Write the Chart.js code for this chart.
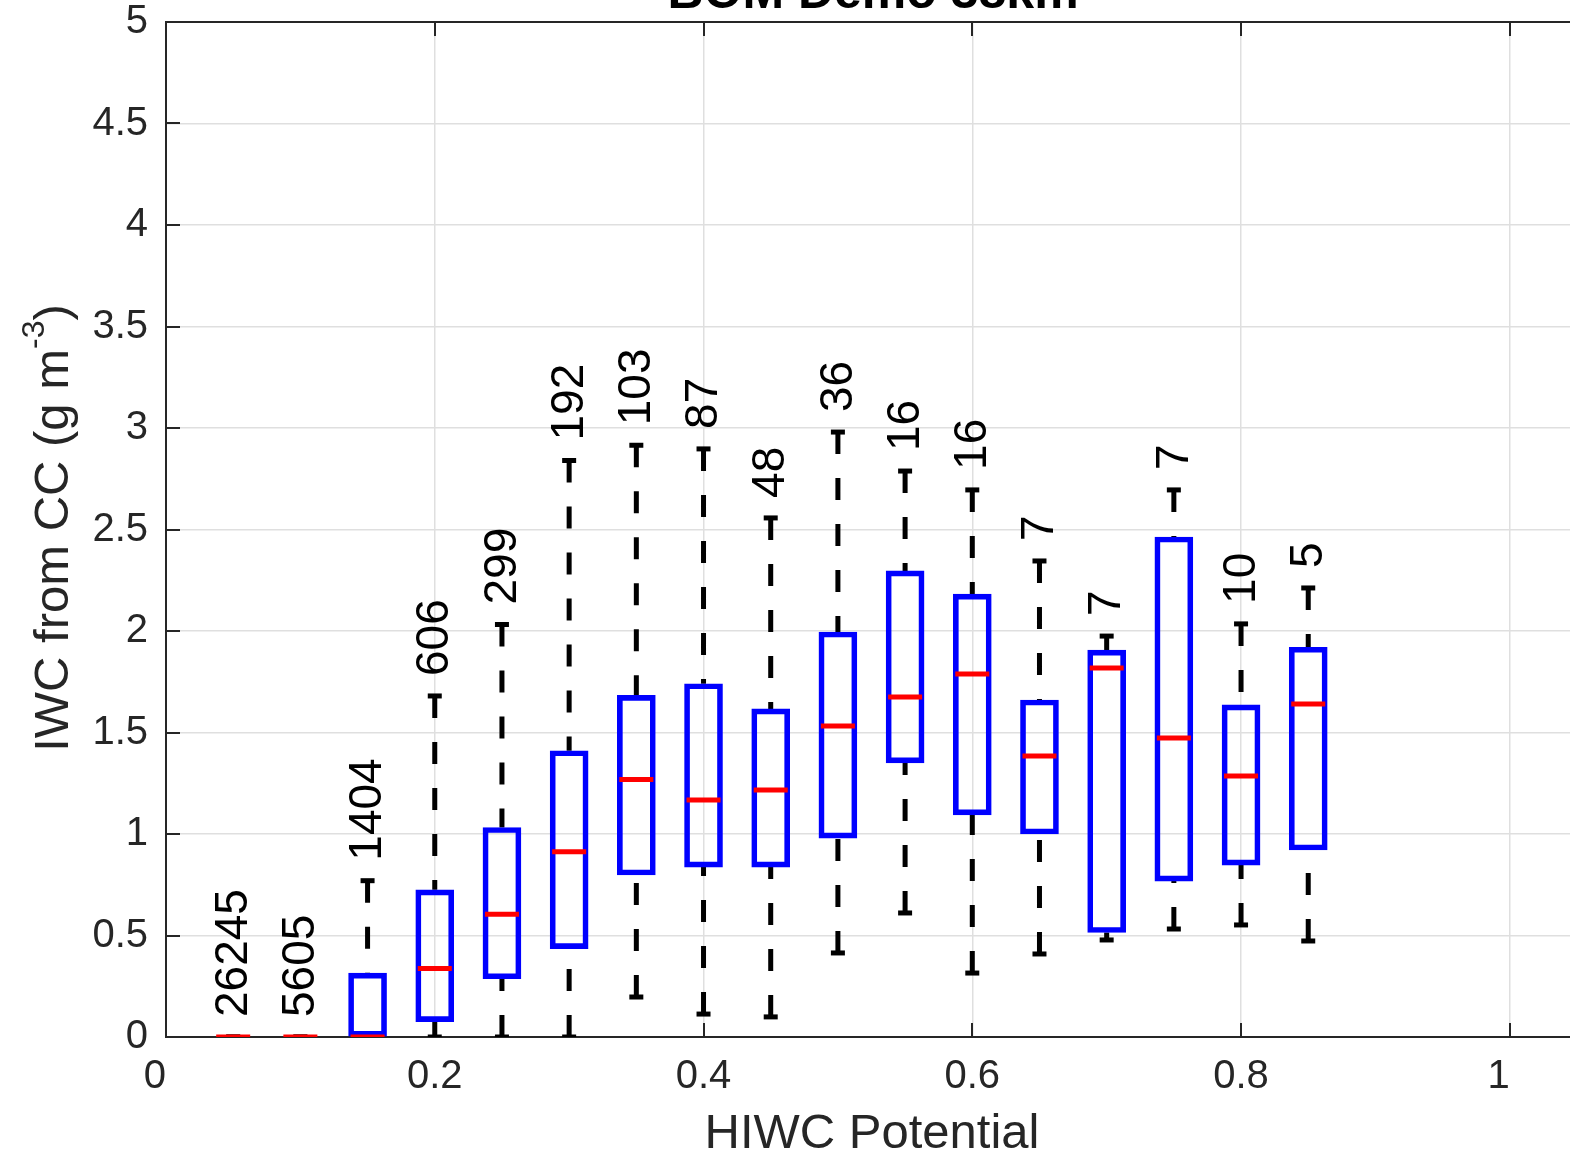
<!DOCTYPE html>
<html>
<head>
<meta charset="utf-8">
<script src="https://cdn.jsdelivr.net/npm/chart.js@4.4.1/dist/chart.umd.min.js"></script>
<style>
  html, body { margin: 0; padding: 0; background: #fff; overflow: hidden; }
  canvas { display: block; }
</style>
</head>
<body>
<canvas id="boxChart" width="1580" height="1152" style="width:1580px;height:1152px"></canvas>
<script>

// ---------------- DATA ----------------

const hiwcBins    = [0.05, 0.10, 0.15, 0.20, 0.25, 0.30, 0.35, 0.40, 0.45, 0.50, 0.55, 0.60, 0.65, 0.70, 0.75, 0.80, 0.85];
const counts      = [26245, 5605, 1404, 606, 299, 192, 103, 87, 48, 36, 16, 16, 7, 7, 7, 10, 5];
const whiskerLow  = [0, 0, 0, 0, 0, 0, 0.197, 0.113, 0.099, 0.414, 0.611, 0.315, 0.409, 0.478, 0.532, 0.552, 0.473];
const q1          = [0, 0, 0, 0.076, 0.287, 0.435, 0.798, 0.837, 0.837, 0.98, 1.35, 1.094, 1.0, 0.515, 0.768, 0.847, 0.921];
const medians     = [0, 0, 0, 0.337, 0.605, 0.913, 1.268, 1.167, 1.217, 1.532, 1.675, 1.788, 1.384, 1.818, 1.473, 1.286, 1.64];
const q3          = [0, 0, 0.315, 0.725, 1.032, 1.41, 1.683, 1.74, 1.616, 1.995, 2.296, 2.182, 1.66, 1.906, 2.463, 1.636, 1.92];
const whiskerHigh = [0, 0, 0.77, 1.68, 2.032, 2.84, 2.915, 2.897, 2.557, 2.98, 2.788, 2.695, 2.345, 1.975, 2.695, 2.035, 2.212];

const xTicks = [0, 0.2, 0.4, 0.6, 0.8, 1];
const yTicks = [0, 0.5, 1, 1.5, 2, 2.5, 3, 3.5, 4, 4.5, 5];

const FONT = "'Liberation Sans', Arial, Helvetica, sans-serif";
const AXIS_COLOR = "#262626";
const GRID_COLOR = "#dfdfdf";


// ---------------- BUILD DATASETS ----------------

const boxData = hiwcBins.map((x, i) => ({x, y: [q1[i], q3[i]]}));
const medianData = hiwcBins.map((x, i) => ({x, y: medians[i]}));

// whiskers run from the end back to the box; a null point breaks the line
const upperWhisker = [];
const lowerWhisker = [];
hiwcBins.forEach((x, i) => {
    upperWhisker.push({x, y: whiskerHigh[i]}, {x, y: q3[i]}, {x, y: null});
    lowerWhisker.push({x, y: whiskerLow[i]}, {x, y: q1[i]}, {x, y: null});
});

const capData = [];
hiwcBins.forEach((x, i) => {
    capData.push({x, y: whiskerLow[i]}, {x, y: whiskerHigh[i]});
});


// ---------------- PLUGINS ----------------

// box frame on top + inward tick marks, like the matlab axes
const matlabFrame = {
    id: "matlabFrame",
    beforeDatasetsDraw(chart) {
        const {ctx, chartArea: a, scales: {x, y}} = chart;
        ctx.save();
        ctx.strokeStyle = AXIS_COLOR;
        ctx.lineWidth = 2;
        ctx.beginPath();
        ctx.moveTo(a.left, a.top);
        ctx.lineTo(a.right, a.top);
        xTicks.forEach(v => {
            const px = Math.round(x.getPixelForValue(v));
            ctx.moveTo(px, a.top);
            ctx.lineTo(px, a.top + 14);
            ctx.moveTo(px, a.bottom);
            ctx.lineTo(px, a.bottom - 14);
        });
        yTicks.forEach(v => {
            const py = Math.round(y.getPixelForValue(v));
            ctx.moveTo(a.left, py);
            ctx.lineTo(a.left + 14, py);
        });
        ctx.stroke();
        ctx.restore();
    }
};

const countLabels = {
    id: "countLabels",
    afterDatasetsDraw(chart) {
        const {ctx, scales: {x, y}} = chart;
        ctx.save();
        ctx.fillStyle = "#000";
        ctx.font = `46px ${FONT}`;
        ctx.textAlign = "left";
        ctx.textBaseline = "middle";
        hiwcBins.forEach((b, i) => {
            ctx.save();
            ctx.translate(x.getPixelForValue(b) + 1, y.getPixelForValue(whiskerHigh[i]) - 20);
            ctx.rotate(-Math.PI / 2);
            ctx.fillText(String(counts[i]), 0, 0);
            ctx.restore();
        });
        ctx.restore();
    }
};

const axisTitles = {
    id: "axisTitles",
    afterDraw(chart) {
        const {ctx} = chart;
        ctx.save();

        // title, cut off by the top edge
        ctx.font = `bold 50px ${FONT}`;
        ctx.textAlign = "center";
        ctx.textBaseline = "alphabetic";
        ctx.fillStyle = "#000";
        ctx.fillText("BOM Demo 38km", 873, 8);

        // x title
        ctx.fillStyle = AXIS_COLOR;
        ctx.font = `49px ${FONT}`;
        ctx.fillText("HIWC Potential", 872, 1148);

        // y title with superscript
        const main = "IWC from CC (g m";
        const sup = "-3";
        const close = ")";
        ctx.font = `49px ${FONT}`;
        const wMain = ctx.measureText(main).width;
        const wClose = ctx.measureText(close).width;
        ctx.font = `32px ${FONT}`;
        const wSup = ctx.measureText(sup).width;
        const total = wMain + wSup + wClose;

        ctx.translate(68, 528);
        ctx.rotate(-Math.PI / 2);
        ctx.textAlign = "left";
        let pos = -total / 2;
        ctx.font = `49px ${FONT}`;
        ctx.fillText(main, pos, 0);
        pos += wMain;
        ctx.font = `32px ${FONT}`;
        ctx.fillText(sup, pos, -24);
        pos += wSup;
        ctx.font = `49px ${FONT}`;
        ctx.fillText(close, pos, 0);

        ctx.restore();
    }
};


// ---------------- CHART ----------------

new Chart(document.getElementById("boxChart"), {

    type: "bar",

    data: {
        datasets: [
            {
                type: "scatter",
                label: "Median",
                data: medianData,
                pointStyle: "line",
                pointRadius: 17,
                pointBorderWidth: 5,
                borderColor: "#ff0000",
                backgroundColor: "#ff0000",
                order: 0
            },
            {
                type: "bar",
                label: "Box",
                data: boxData,
                barThickness: 38,
                borderWidth: 5,
                borderSkipped: false,
                borderColor: "#0000ff",
                backgroundColor: "rgba(0,0,0,0)",
                order: 1
            },
            {
                type: "scatter",
                label: "Caps",
                data: capData,
                pointStyle: "line",
                pointRadius: 7,
                pointBorderWidth: 5,
                borderColor: "#000",
                backgroundColor: "#000",
                order: 2
            },
            {
                type: "line",
                label: "Upper whisker",
                data: upperWhisker,
                borderColor: "#000",
                borderWidth: 5,
                borderDash: [22, 24],
                pointRadius: 0,
                spanGaps: false,
                fill: false,
                order: 3
            },
            {
                type: "line",
                label: "Lower whisker",
                data: lowerWhisker,
                borderColor: "#000",
                borderWidth: 5,
                borderDash: [22, 24],
                pointRadius: 0,
                spanGaps: false,
                fill: false,
                order: 3
            }
        ]
    },

    options: {
        responsive: false,
        animation: false,
        layout: {autoPadding: false, padding: {top: 22, right: 3, left: 0, bottom: 0}},
        plugins: {
            legend: {display: false},
            tooltip: {enabled: false}
        },
        scales: {
            x: {
                type: "linear",
                min: 0,
                max: 1.05,
                offset: false,
                afterBuildTicks: s => { s.ticks = xTicks.map(v => ({value: v})); },
                afterFit: s => { s.height = 115; s.paddingLeft = 0; s.paddingRight = 0; },
                grid: {color: GRID_COLOR, lineWidth: 1.5, drawTicks: false, offset: false},
                border: {color: AXIS_COLOR, width: 2},
                ticks: {
                    padding: 16,
                    color: AXIS_COLOR,
                    font: {family: FONT, size: 40},
                    maxRotation: 0,
                    // matlab sets the single digit labels a little to the left
                    callback: v => (v === 0 || v === 1) ? String(v) + "  " : String(v)
                }
            },
            y: {
                type: "linear",
                min: 0,
                max: 5,
                afterBuildTicks: s => { s.ticks = yTicks.map(v => ({value: v})); },
                afterFit: s => { s.width = 166; s.paddingTop = 0; s.paddingBottom = 0; },
                grid: {color: GRID_COLOR, lineWidth: 1.5, drawTicks: false},
                border: {color: AXIS_COLOR, width: 2},
                ticks: {
                    padding: 18,
                    color: AXIS_COLOR,
                    font: {family: FONT, size: 40},
                    callback: v => String(v)
                }
            }
        }
    },

    plugins: [matlabFrame, countLabels, axisTitles]

});

</script>
</body>
</html>
